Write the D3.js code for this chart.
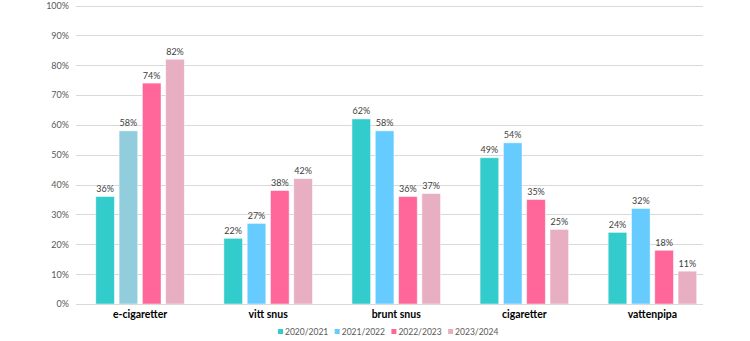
<!DOCTYPE html>
<html>
<head>
<meta charset="utf-8">
<script src="https://cdn.jsdelivr.net/npm/d3@7"></script>
<style>
  html, body { margin: 0; padding: 0; background: #fff; }
  svg { display: block; font-family: Lato, "Open Sans", sans-serif; }
</style>
</head>
<body>
<svg id="chart" width="750" height="341"></svg>
<script>
// Andel (%) per produkt och läsår
const categories = ["e-cigaretter", "vitt snus", "brunt snus", "cigaretter", "vattenpipa"];
const seriesNames = ["2020/2021", "2021/2022", "2022/2023", "2023/2024"];
const s2020 = [36, 22, 62, 49, 24];
const s2021 = [58, 27, 58, 54, 32];
const s2022 = [74, 38, 36, 35, 18];
const s2023 = [82, 42, 37, 25, 11];
const yTicks = [0, 10, 20, 30, 40, 50, 60, 70, 80, 90, 100];

const seriesValues = [s2020, s2021, s2022, s2023];
const colors = ["#33CCCC", "#66CCFF", "#FF6699", "#E8AFC2"];
// the first category uses a muted blue for its 2021/2022 bar
const pointColor = (si, ci) => (si === 1 && ci === 0) ? "#92CDDE" : colors[si];

const svg = d3.select("#chart");
const plotLeft = 76, plotRight = 703, plotTop = 5.5, plotBottom = 304;
const groupStep = 128.1;

const y = d3.scaleLinear().domain([0, 100]).range([plotBottom, plotTop]);
const x = d3.scaleBand().domain(categories)
  .range([plotLeft, plotLeft + groupStep * categories.length]).padding(0);
const inner = d3.scaleBand().domain(seriesNames)
  .range([-46.6, 46.6]).paddingInner(0.2).paddingOuter(0.1);

// gridlines
svg.append("g").selectAll("line").data(yTicks).join("line")
  .attr("x1", plotLeft).attr("x2", plotRight)
  .attr("y1", d => Math.round(y(d)) + 0.5).attr("y2", d => Math.round(y(d)) + 0.5)
  .attr("stroke", "#D9D9D9").attr("stroke-width", 1);

// y-axis labels
const yAxis = d3.axisLeft(y).tickValues(yTicks).tickFormat(d => d + "%").tickSize(0).tickPadding(7);
const gy = svg.append("g").attr("transform", `translate(${plotLeft},0)`).call(yAxis);
gy.select(".domain").remove();
gy.selectAll("text").attr("fill", "#595959").attr("font-size", 9).attr("font-family", "Lato, sans-serif");

// bars and value labels
const rows = [];
seriesValues.forEach((vals, si) => vals.forEach((v, ci) => rows.push({ si, ci, v })));
const cx = d => x(categories[d.ci]) + x.bandwidth() / 2 + inner(seriesNames[d.si]);

svg.append("g").selectAll("rect").data(rows).join("rect")
  .attr("x", cx)
  .attr("y", d => y(d.v))
  .attr("width", inner.bandwidth())
  .attr("height", d => y(0) - y(d.v))
  .attr("fill", d => pointColor(d.si, d.ci))
  .attr("stroke", "#ffffff").attr("stroke-opacity", 0.6).attr("stroke-width", 0.8);

svg.append("g").selectAll("text").data(rows).join("text")
  .attr("x", d => cx(d) + inner.bandwidth() / 2)
  .attr("y", d => y(d.v) - 4.5)
  .attr("text-anchor", "middle")
  .attr("font-size", 9).attr("fill", "#404040")
  .text(d => d.v + "%");

// x axis line and category labels
svg.append("line")
  .attr("x1", plotLeft).attr("x2", plotRight)
  .attr("y1", Math.round(y(0)) + 0.5).attr("y2", Math.round(y(0)) + 0.5)
  .attr("stroke", "#D9D9D9");

svg.append("g").selectAll("text").data(categories).join("text")
  .attr("x", d => x(d) + x.bandwidth() / 2)
  .attr("y", 318)
  .attr("text-anchor", "middle")
  .attr("font-size", 10.5).attr("font-weight", "bold").attr("fill", "#000")
  .text(d => d);

// legend
const legendX = 278, legendStep = 56.7, legendY = 332;
const lg = svg.append("g").selectAll("g").data(seriesNames).join("g")
  .attr("transform", (d, i) => `translate(${legendX + i * legendStep},${legendY})`);
lg.append("rect").attr("x", 0).attr("y", -3).attr("width", 5).attr("height", 5)
  .attr("fill", (d, i) => colors[i]);
lg.append("text").attr("x", 7).attr("y", 2.5)
  .attr("font-size", 8.5).attr("fill", "#595959")
  .text(d => d);
</script>
</body>
</html>
